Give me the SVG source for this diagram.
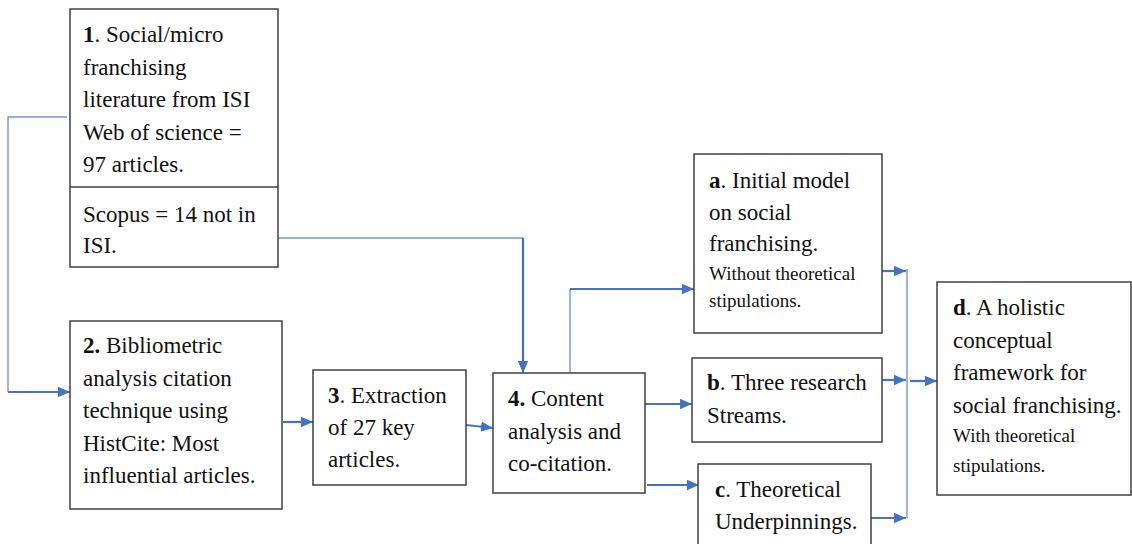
<svg xmlns="http://www.w3.org/2000/svg" width="1132" height="544" viewBox="0 0 1132 544">
  <style>
    .box { fill: #ffffff; stroke: #404040; stroke-width: 1.5; }
    .t { font-family: "Liberation Serif", "Times New Roman", serif; font-size: 23px; fill: #111111; }
    .s { font-size: 19px; }
    .b { font-weight: bold; }
    .thin { fill: none; stroke: #6f96dc; stroke-width: 1.4; }
    .arr { fill: none; stroke: #4472c4; stroke-width: 2.2; marker-end: url(#head); }
  </style>
  <defs>
    <marker id="head" markerUnits="userSpaceOnUse" markerWidth="12" markerHeight="12" viewBox="0 0 12 12" refX="12" refY="6" orient="auto">
      <path d="M0,0.8 L12,6 L0,11.2 Z" fill="#4472c4"/>
    </marker>
  </defs>
  <rect width="1132" height="544" fill="#ffffff"/>

  <!-- connectors -->
  <g id="connectors">
    <path class="thin" d="M67,117 H8 V392"/>
    <path class="arr" d="M8,392 H70"/>
    <path class="thin" d="M278,238 H523"/>
    <path class="arr" d="M523,238 V373"/>
    <path class="arr" d="M283,422 H313"/>
    <path class="arr" d="M466,425 L493,428"/>
    <path class="thin" d="M570,373 V289"/>
    <path class="arr" d="M570,289 H694"/>
    <path class="arr" d="M645,404 H692"/>
    <path class="arr" d="M647,485 H699"/>
    <path class="arr" d="M882,271 H906"/>
    <path class="arr" d="M882,380 H906"/>
    <path class="arr" d="M871,518 H906"/>
    <path class="thin" d="M907,269 V518"/>
    <path class="arr" d="M910,381 H937"/>
  </g>

  <!-- 1: sources -->
  <g id="node1">
    <rect class="box" x="70" y="9" width="208" height="258"/>
    <line x1="70" y1="187" x2="278" y2="187" stroke="#404040" stroke-width="1.5"/>
    <text class="t" x="83" y="42"><tspan class="b">1</tspan>. Social/micro</text>
    <text class="t" x="83" y="74.5">franchising</text>
    <text class="t" x="83" y="107">literature from ISI</text>
    <text class="t" x="83" y="139.5">Web of science =</text>
    <text class="t" x="83" y="172">97 articles.</text>
    <text class="t" x="83" y="222">Scopus = 14 not in</text>
    <text class="t" x="83" y="253">ISI.</text>
  </g>

  <!-- 2: bibliometric analysis -->
  <g id="node2">
    <rect class="box" x="70" y="321" width="212" height="188"/>
    <text class="t" x="83" y="353"><tspan class="b">2.</tspan> Bibliometric</text>
    <text class="t" x="83" y="385.5">analysis citation</text>
    <text class="t" x="83" y="418">technique using</text>
    <text class="t" x="83" y="450.5">HistCite: Most</text>
    <text class="t" x="83" y="483">influential articles.</text>
  </g>

  <!-- 3: extraction -->
  <g id="node3">
    <rect class="box" x="313" y="370" width="153" height="115"/>
    <text class="t" x="328" y="403"><tspan class="b">3</tspan>. Extraction</text>
    <text class="t" x="328" y="435">of 27 key</text>
    <text class="t" x="328" y="467">articles.</text>
  </g>

  <!-- 4: content analysis -->
  <g id="node4">
    <rect class="box" x="493" y="373" width="152" height="120"/>
    <text class="t" x="508" y="406"><tspan class="b">4.</tspan> Content</text>
    <text class="t" x="508" y="438.5">analysis and</text>
    <text class="t" x="508" y="471">co-citation.</text>
  </g>

  <!-- a: initial model -->
  <g id="nodeA">
    <rect class="box" x="694" y="154" width="188" height="179"/>
    <text class="t" x="709" y="188"><tspan class="b">a</tspan>. Initial model</text>
    <text class="t" x="709" y="220">on social</text>
    <text class="t" x="709" y="251">franchising.</text>
    <text class="t s" x="709" y="280">Without theoretical</text>
    <text class="t s" x="709" y="307">stipulations.</text>
  </g>

  <!-- b: research streams -->
  <g id="nodeB">
    <rect class="box" x="692" y="358" width="190" height="84"/>
    <text class="t" x="707" y="390"><tspan class="b">b</tspan>. Three research</text>
    <text class="t" x="707" y="423">Streams.</text>
  </g>

  <!-- c: theoretical underpinnings -->
  <g id="nodeC">
    <rect class="box" x="698" y="464" width="173" height="90"/>
    <text class="t" x="715" y="497"><tspan class="b">c</tspan>. Theoretical</text>
    <text class="t" x="715" y="529">Underpinnings.</text>
  </g>

  <!-- d: holistic framework -->
  <g id="nodeD">
    <rect class="box" x="937" y="282" width="194" height="213"/>
    <text class="t" x="953" y="315"><tspan class="b">d</tspan>. A holistic</text>
    <text class="t" x="953" y="348">conceptual</text>
    <text class="t" x="953" y="380">framework for</text>
    <text class="t" x="953" y="413">social franchising.</text>
    <text class="t s" x="953" y="442">With theoretical</text>
    <text class="t s" x="953" y="472">stipulations.</text>
  </g>
</svg>
